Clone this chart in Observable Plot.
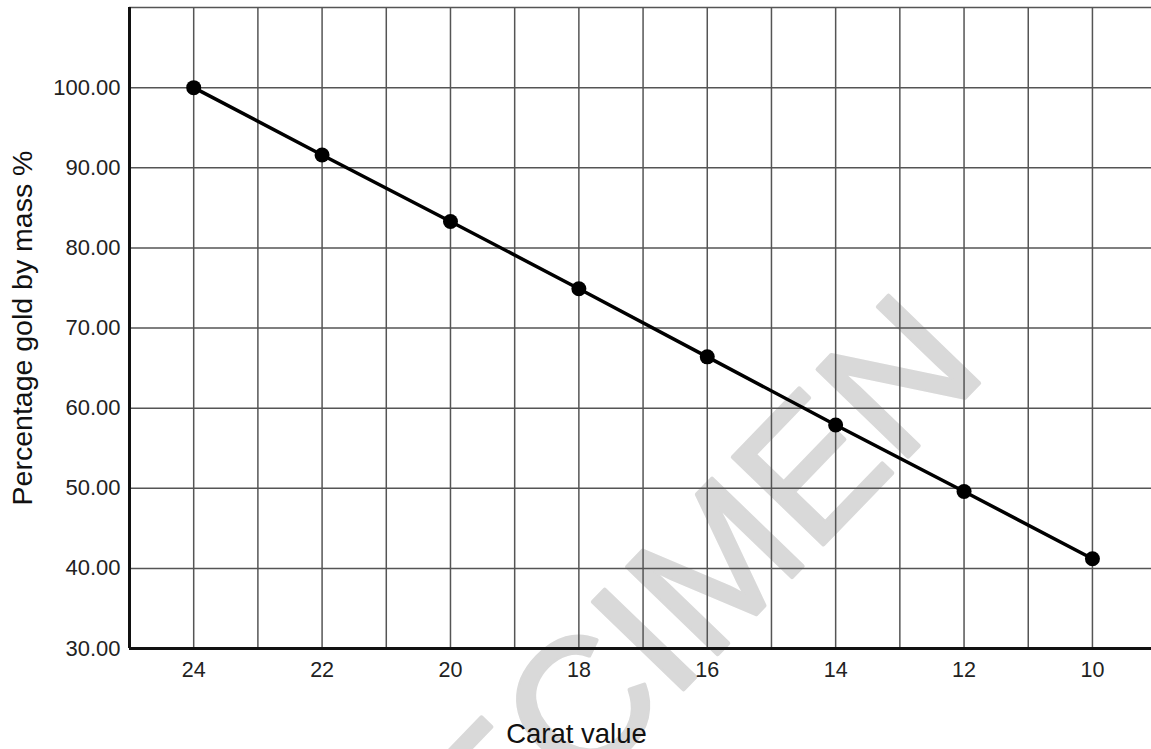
<!DOCTYPE html>
<html>
<head>
<meta charset="utf-8">
<script src="https://cdn.jsdelivr.net/npm/d3@7"></script>
<script src="https://cdn.jsdelivr.net/npm/@observablehq/plot@0.6"></script>
<style>
  html, body { margin: 0; padding: 0; background: #fff; }
  #chart { width: 1151px; height: 749px; overflow: hidden; }
</style>
</head>
<body>
<div id="chart"></div>
<script>
// Data
const carats = [24, 22, 20, 18, 16, 14, 12, 10];
const goldPercent = [100, 91.6, 83.3, 74.9, 66.4, 57.9, 49.6, 41.2];

// Tick labels / grid values
const xTicks = [24, 22, 20, 18, 16, 14, 12, 10];
const xGrid = [24, 23, 22, 21, 20, 19, 18, 17, 16, 15, 14, 13, 12, 11, 10, 9];
const yTicks = [30, 40, 50, 60, 70, 80, 90, 100];
const yGrid = [40, 50, 60, 70, 80, 90, 100, 110];

const xLabel = "Carat value";
const yLabel = "Percentage gold by mass %";
const watermark = "SPECIMEN";

const data = carats.map((c, i) => ({carat: c, gold: goldPercent[i]}));

const chart = Plot.plot({
  width: 1151,
  height: 749,
  marginLeft: 129,
  marginRight: 0,
  marginTop: 7,
  marginBottom: 101,
  style: {fontFamily: "'Liberation Sans', Arial, sans-serif", fontSize: "22px", color: "#222", background: "#fff"},
  x: {domain: [25, 9.08]},
  y: {domain: [30, 110]},
  marks: [
    Plot.text([watermark], {
      frameAnchor: "top-left", dx: 486, dy: 668, rotate: -46,
      fontSize: 183, fill: "#d9d9d9", stroke: "#d9d9d9", strokeWidth: 4,
      textAnchor: "middle", lineAnchor: "middle"
    }),
    Plot.ruleX(xGrid, {stroke: "#555", strokeWidth: 1.5}),
    Plot.ruleY(yGrid, {stroke: "#555", strokeWidth: 1.5}),
    Plot.ruleX([25], {stroke: "#111", strokeWidth: 3}),
    Plot.ruleY([30], {stroke: "#111", strokeWidth: 3}),
    Plot.line(data, {x: "carat", y: "gold", stroke: "#000", strokeWidth: 3.5}),
    Plot.dot(data, {x: "carat", y: "gold", r: 7.5, fill: "#000", stroke: "none"}),
    Plot.axisX({ticks: xTicks, tickSize: 0, tickPadding: 13, label: null, fontSize: 21.5, fill: "#222"}),
    Plot.axisY({ticks: yTicks, tickSize: 0, tickPadding: 9, tickFormat: d3.format(".2f"), label: null, fontSize: 22, fill: "#222"}),
    Plot.text([xLabel], {frameAnchor: "bottom", dx: -64, dy: 86, fontSize: 27.5, fill: "#111", lineAnchor: "middle"}),
    Plot.text([yLabel], {frameAnchor: "left", dx: -107, rotate: -90, fontSize: 28.5, fill: "#111", textAnchor: "middle", lineAnchor: "middle"})
  ]
});
document.getElementById("chart").appendChild(chart);
</script>
</body>
</html>
